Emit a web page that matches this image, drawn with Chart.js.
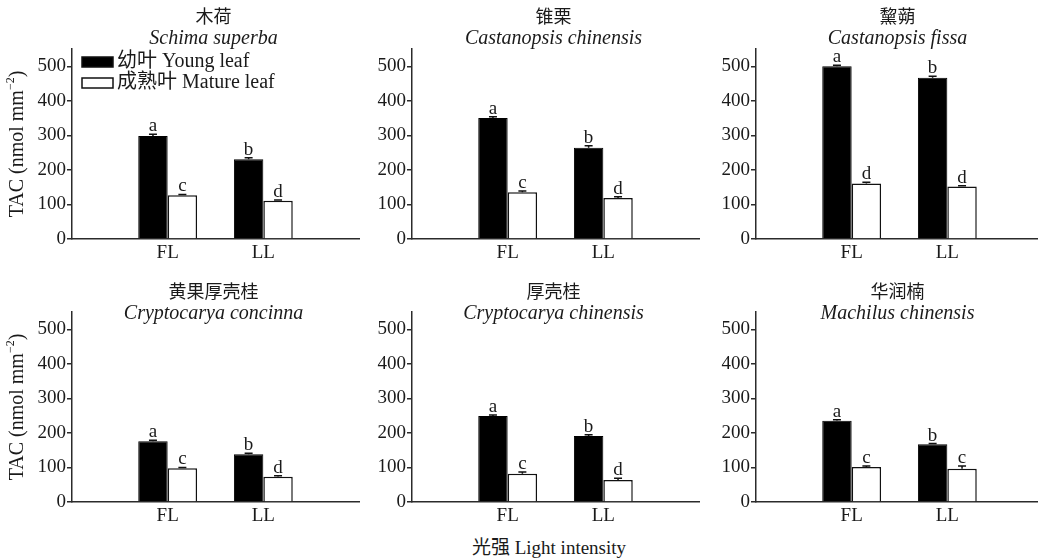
<!DOCTYPE html>
<html>
<head>
<meta charset="utf-8">
<script src="https://cdn.jsdelivr.net/npm/chart.js@4.4.1/dist/chart.umd.min.js"></script>
<style>
    html, body { margin: 0; padding: 0; background: #fff; overflow: hidden; width: 1038px; height: 560px; position: relative; }
    canvas { position: absolute; }
    #xTitle { position: absolute; left: 409px; top: 536px; width: 280px; text-align: center; line-height: 24px;
              font-family: 'Liberation Serif', 'Noto Sans CJK SC', serif; font-size: 19px; color: #1a1a1a; }
</style>
</head>
<body>
<div id="xTitle">光强 Light intensity</div>
<script>
// categories and series
const groups = ['', 'FL', 'LL', ''];
const seriesNames = ['幼叶 Young leaf', '成熟叶 Mature leaf'];
const speciesCn = ['木荷', '锥栗', '黧蒴', '黄果厚壳桂', '厚壳桂', '华润楠'];
const speciesLatin = ['Schima superba', 'Castanopsis chinensis', 'Castanopsis fissa',
                      'Cryptocarya concinna', 'Cryptocarya chinensis', 'Machilus chinensis'];

// TAC values [FL, LL] per species
const young = [[298, 231], [350, 264], [500, 467], [176, 138], [249, 191], [235, 167]];
const mature = [[127, 111], [135, 119], [161, 152], [98, 73], [82, 64], [101, 96]];
const youngErr = [[5, 4], [4, 6], [3, 4], [3, 3], [3, 4], [3, 2]];
const matureErr = [[2, 2], [4, 3], [3, 2], [2, 3], [5, 5], [3, 8]];
const youngLetters = [['a', 'b'], ['a', 'b'], ['a', 'b'], ['a', 'b'], ['a', 'b'], ['a', 'b']];
const matureLetters = [['c', 'd'], ['c', 'd'], ['d', 'd'], ['c', 'd'], ['c', 'd'], ['c', 'c']];

const yTicks = [0, 100, 200, 300, 400, 500];
const yMax = 550;

const FONT = "'Liberation Serif', 'Noto Sans CJK SC', serif";
const TEXT = '#1a1a1a';
const AXIS = '#2b2b2b';

// panel layout
const colLeft = [0, 340, 684];
const rowTop = [0, 263];
const titleY = [[18, 39], [30, 51]];
const CW = 362, CH = 270;

const pad = a => [null, a[0], a[1], null];

const panelDeco = {
    id: 'panelDeco',
    afterDatasetsDraw(chart) {
        const ctx = chart.ctx;
        const o = chart.options.plugins.panelDeco;
        const ys = chart.scales.y;
        const area = chart.chartArea;
        ctx.save();

        // error bars and letters
        chart.data.datasets.forEach((ds, i) => {
            chart.getDatasetMeta(i).data.forEach((el, j) => {
                const v = ds.data[j];
                if (v == null) return;
                const top = ys.getPixelForValue(v + ds.errs[j]);
                ctx.strokeStyle = '#111';
                ctx.lineWidth = 1.5;
                ctx.beginPath();
                ctx.moveTo(el.x, el.y);
                ctx.lineTo(el.x, top);
                ctx.moveTo(el.x - 4, top);
                ctx.lineTo(el.x + 4, top);
                ctx.stroke();
                ctx.fillStyle = TEXT;
                ctx.font = '19px ' + FONT;
                ctx.textAlign = 'center';
                ctx.textBaseline = 'alphabetic';
                ctx.fillText(ds.letters[j], el.x, top - 3);
            });
        });

        // titles
        const cx = (area.left + area.right) / 2 - 2;
        ctx.fillStyle = TEXT;
        ctx.textAlign = 'center';
        ctx.textBaseline = 'middle';
        ctx.font = '18px ' + FONT;
        ctx.fillText(o.cn, cx, o.ty[0]);
        ctx.font = 'italic 20px ' + FONT;
        ctx.fillText(o.latin, cx, o.ty[1]);

        // y axis title
        if (o.yTitle) {
            const main = 'TAC (nmol mm', sup = '\u22122', end = ')';
            ctx.font = '20px ' + FONT;
            const w1 = ctx.measureText(main).width, w3 = ctx.measureText(end).width;
            ctx.font = '12px ' + FONT;
            const w2 = ctx.measureText(sup).width;
            const total = w1 + w2 + w3;
            ctx.translate(18, (area.top + area.bottom) / 2);
            ctx.rotate(-Math.PI / 2);
            ctx.textAlign = 'left';
            ctx.textBaseline = 'middle';
            ctx.font = '20px ' + FONT;
            ctx.fillText(main, -total / 2, 0);
            ctx.fillText(end, -total / 2 + w1 + w2, 0);
            ctx.font = '12px ' + FONT;
            ctx.fillText(sup, -total / 2 + w1, -7);
            ctx.setTransform(1, 0, 0, 1, 0, 0);
        }

        // legend
        if (o.legend) {
            chart.data.datasets.forEach((ds, i) => {
                const y = 62 + i * 21;
                ctx.fillStyle = ds.backgroundColor;
                ctx.strokeStyle = '#111';
                ctx.lineWidth = 1.5;
                ctx.fillRect(82, y - 5, 31, 10);
                ctx.strokeRect(82, y - 5, 31, 10);
                ctx.fillStyle = TEXT;
                ctx.font = '20px ' + FONT;
                ctx.textAlign = 'left';
                ctx.textBaseline = 'middle';
                ctx.fillText(ds.label, 117, y);
            });
        }
        ctx.restore();
    }
};

for (let p = 0; p < 6; p++) {
    const r = Math.floor(p / 3), c = p % 3;
    const cv = document.createElement('canvas');
    cv.width = CW;
    cv.height = CH;
    cv.style.left = colLeft[c] + 'px';
    cv.style.top = rowTop[r] + 'px';
    cv.style.width = CW + 'px';
    cv.style.height = CH + 'px';
    document.body.appendChild(cv);

    new Chart(cv.getContext('2d'), {
        type: 'bar',
        data: {
            labels: groups,
            datasets: [{
                label: seriesNames[0],
                data: pad(young[p]),
                errs: pad(youngErr[p]),
                letters: pad(youngLetters[p]),
                backgroundColor: '#000',
                borderColor: '#000',
                borderWidth: 1,
                categoryPercentage: 0.615,
                barPercentage: 1
            }, {
                label: seriesNames[1],
                data: pad(mature[p]),
                errs: pad(matureErr[p]),
                letters: pad(matureLetters[p]),
                backgroundColor: '#fff',
                borderColor: '#111',
                borderWidth: 1.5,
                categoryPercentage: 0.615,
                barPercentage: 1
            }]
        },
        options: {
            responsive: false,
            animation: false,
            devicePixelRatio: 1,
            layout: { padding: { top: 49, right: 2, left: 0, bottom: 0 } },
            plugins: {
                legend: { display: false },
                tooltip: { enabled: false },
                panelDeco: { cn: speciesCn[p], latin: speciesLatin[p], ty: titleY[r], yTitle: c === 0, legend: p === 0 }
            },
            scales: {
                x: {
                    offset: false,
                    grid: { display: false, drawTicks: false },
                    border: { color: AXIS, width: 1.5 },
                    ticks: { color: TEXT, font: { family: FONT, size: 19 }, padding: 3, autoSkip: false, maxRotation: 0 },
                    afterFit: s => { s.height = CH - 239; }
                },
                y: {
                    min: 0,
                    max: yMax,
                    grid: { drawOnChartArea: false, tickLength: 5, color: AXIS, lineWidth: 1.5 },
                    border: { color: AXIS, width: 1.5 },
                    ticks: { color: TEXT, font: { family: FONT, size: 19 }, padding: 1 },
                    afterBuildTicks: s => { s.ticks = yTicks.map(v => ({ value: v })); },
                    afterFit: s => { s.width = 72; }
                }
            }
        },
        plugins: [panelDeco]
    });
}
</script>
</body>
</html>
